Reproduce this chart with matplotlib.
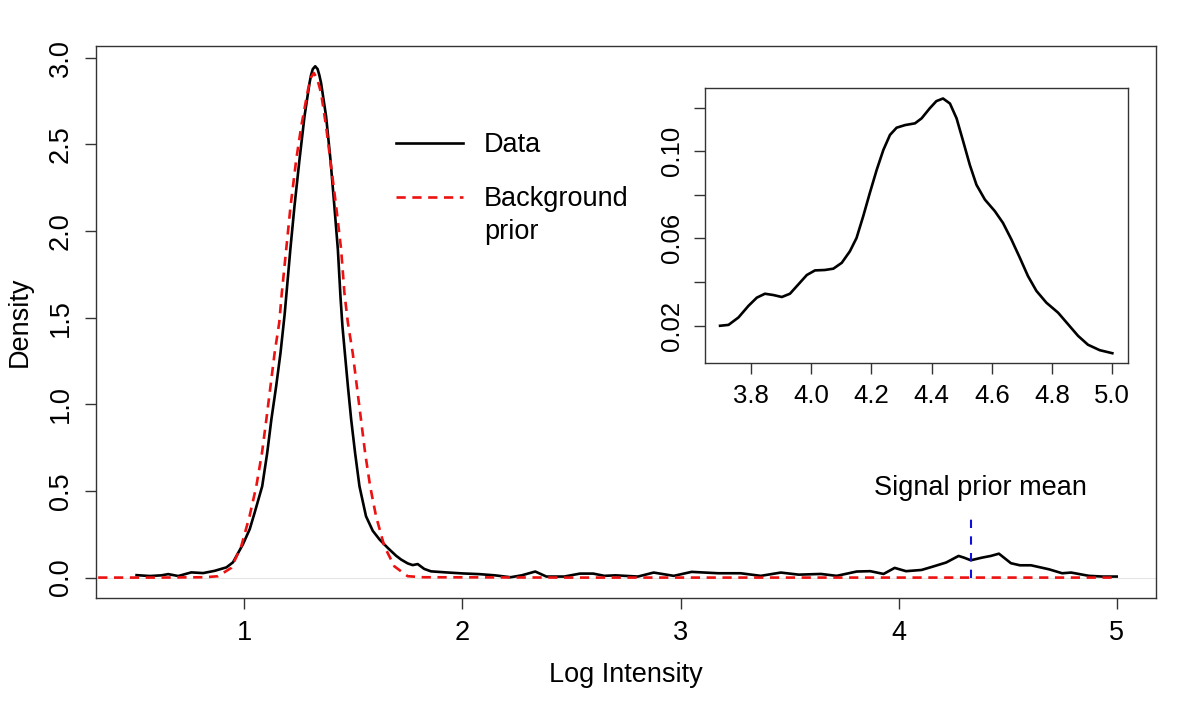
import matplotlib
matplotlib.use("Agg")
import matplotlib.pyplot as plt

plt.rcParams["font.family"] = ["Liberation Sans", "DejaVu Sans"]

# data curve (kernel density of log intensities)
data_x = [0.506, 0.567, 0.620, 0.651, 0.697, 0.757, 0.811, 0.864, 0.918, 0.948,
          0.994, 1.025, 1.047, 1.082, 1.105, 1.124, 1.146, 1.166, 1.185, 1.211,
          1.230, 1.253, 1.276, 1.299, 1.306, 1.314, 1.325, 1.336, 1.344, 1.352,
          1.375, 1.395, 1.413, 1.429, 1.441, 1.450, 1.461, 1.475, 1.490, 1.508,
          1.528, 1.558, 1.589, 1.620, 1.658, 1.696, 1.719, 1.749, 1.772, 1.795,
          1.825, 1.856, 1.924, 2.001, 2.077, 2.149, 2.221, 2.272, 2.334, 2.385,
          2.467, 2.539, 2.600, 2.651, 2.702, 2.805, 2.877, 2.969, 3.051, 3.173,
          3.276, 3.368, 3.460, 3.542, 3.644, 3.716, 3.808, 3.870, 3.931, 3.982,
          4.034, 4.105, 4.156, 4.218, 4.275, 4.300, 4.331, 4.382, 4.423, 4.460,
          4.515, 4.556, 4.607, 4.689, 4.750, 4.791, 4.873, 4.935, 5.000]
data_y = [0.014, 0.009, 0.013, 0.020, 0.009, 0.030, 0.026, 0.039, 0.059, 0.088,
          0.193, 0.280, 0.373, 0.527, 0.719, 0.912, 1.104, 1.297, 1.520, 1.893,
          2.143, 2.412, 2.662, 2.854, 2.900, 2.935, 2.951, 2.935, 2.900, 2.854,
          2.662, 2.412, 2.143, 1.893, 1.620, 1.450, 1.297, 1.104, 0.912, 0.719,
          0.527, 0.354, 0.270, 0.220, 0.171, 0.126, 0.104, 0.082, 0.072, 0.078,
          0.050, 0.036, 0.030, 0.024, 0.020, 0.013, 0.002, 0.013, 0.035, 0.006,
          0.006, 0.023, 0.023, 0.010, 0.013, 0.006, 0.029, 0.010, 0.033, 0.025,
          0.025, 0.010, 0.029, 0.017, 0.021, 0.010, 0.035, 0.037, 0.021, 0.056,
          0.037, 0.044, 0.063, 0.087, 0.125, 0.115, 0.100, 0.115, 0.125, 0.138,
          0.083, 0.071, 0.071, 0.048, 0.025, 0.029, 0.010, 0.006, 0.006]

# background prior (normal density)
prior_x = [0.33, 0.60, 0.82, 0.88, 0.94, 0.986, 1.024, 1.055, 1.081, 1.101,
           1.120, 1.139, 1.160, 1.172, 1.192, 1.212, 1.238, 1.261, 1.292, 1.305,
           1.319, 1.334, 1.352, 1.375, 1.398, 1.421, 1.444, 1.459, 1.475, 1.497,
           1.516, 1.535, 1.554, 1.577, 1.604, 1.642, 1.688, 1.749, 1.82, 2.5,
           3.5, 5.0]
prior_y = [0.0, 0.0, 0.002, 0.008, 0.056, 0.181, 0.354, 0.527, 0.719, 0.912,
           1.104, 1.297, 1.470, 1.643, 1.893, 2.143, 2.412, 2.604, 2.816, 2.885,
           2.912, 2.880, 2.797, 2.604, 2.373, 2.143, 1.893, 1.643, 1.470, 1.297,
           1.104, 0.912, 0.719, 0.527, 0.354, 0.181, 0.065, 0.008, 0.002, 0.0,
           0.0, 0.0]

signal_mean = 4.333
signal_top = 0.36

# inset: density of the upper part of the data
inset_x = [3.698, 3.726, 3.759, 3.792, 3.820, 3.847, 3.875, 3.903, 3.930, 3.958,
           3.986, 4.013, 4.046, 4.074, 4.102, 4.129, 4.151, 4.173, 4.195, 4.218,
           4.240, 4.262, 4.284, 4.312, 4.345, 4.367, 4.394, 4.416, 4.438, 4.461,
           4.483, 4.505, 4.527, 4.549, 4.577, 4.610, 4.637, 4.665, 4.693, 4.720,
           4.748, 4.781, 4.820, 4.853, 4.886, 4.919, 4.958, 5.000]
inset_y = [0.0199, 0.0203, 0.0237, 0.0290, 0.0328, 0.0346, 0.0340, 0.0331, 0.0346, 0.0389,
           0.0432, 0.0453, 0.0455, 0.0461, 0.0488, 0.0541, 0.0602, 0.0701, 0.0808, 0.0915,
           0.1006, 0.1075, 0.1108, 0.1120, 0.1128, 0.1151, 0.1197, 0.1230, 0.1242, 0.1219,
           0.1151, 0.1045, 0.0937, 0.0846, 0.0778, 0.0725, 0.0671, 0.0595, 0.0511, 0.0427,
           0.0359, 0.0305, 0.0259, 0.0206, 0.0153, 0.0112, 0.0087, 0.0073]
inset_yticks = [0.02, 0.04, 0.06, 0.08, 0.10, 0.12]
inset_ylabels = ["0.02", "", "0.06", "", "0.10", ""]

FS = 19.5
RED = "#ee1111"

fig = plt.figure(figsize=(12, 7.1), dpi=100)
ax = fig.add_axes([0.08, 0.1577, 0.8833, 0.7775])

ax.axhline(0, color="#e4e4e4", lw=0.8, zorder=1)
ax.plot(data_x, data_y, color="black", lw=1.9, zorder=3)
ax.plot(prior_x, prior_y, color=RED, lw=1.9, ls=(0, (3.5, 2.5)), zorder=4)
ax.plot([signal_mean, signal_mean], [0, signal_top], color="#1010dd", lw=1.5,
        ls=(0, (4, 4)), zorder=5)
ax.text(4.373, 0.515, "Signal prior mean", ha="center", va="center", fontsize=FS)

ax.set_xlim(0.32, 5.18)
ax.set_ylim(-0.118, 3.068)
ax.set_xticks([1, 2, 3, 4, 5])
ax.set_yticks([0.0, 0.5, 1.0, 1.5, 2.0, 2.5, 3.0])
ax.set_yticklabels(["0.0", "0.5", "1.0", "1.5", "2.0", "2.5", "3.0"],
                   rotation=90, va="center")
ax.tick_params(labelsize=FS, length=8, width=1, pad=8, color="#333333")
ax.set_xlabel("Log Intensity", fontsize=FS, labelpad=11)
ax.set_ylabel("Density", fontsize=FS, labelpad=11)
for s in ax.spines.values():
    s.set_linewidth(1.0)
    s.set_color("#333333")

# legend, drawn like R's legend(bty = "n")
tr = ax.transAxes
ax.plot([0.283, 0.346], [0.8237, 0.8237], color="black", lw=1.9, transform=tr)
ax.plot([0.283, 0.346], [0.7259, 0.7259], color=RED, lw=1.9,
        ls=(0, (3.5, 2.5)), transform=tr)
ax.text(0.366, 0.8085, "Data", fontsize=FS, va="baseline", transform=tr)
ax.text(0.366, 0.7107, "Background", fontsize=FS, va="baseline", transform=tr)
ax.text(0.366, 0.6498, "prior", fontsize=FS, va="baseline", transform=tr)

# inset
ins = fig.add_axes([0.5875, 0.4887, 0.3525, 0.3873])
ins.plot(inset_x, inset_y, color="black", lw=1.9)
ins.set_xlim(3.648, 5.052)
ins.set_ylim(0.0028, 0.129)
ins.set_xticks([3.8, 4.0, 4.2, 4.4, 4.6, 4.8, 5.0])
ins.set_xticklabels(["3.8", "4.0", "4.2", "4.4", "4.6", "4.8", "5.0"])
ins.set_yticks(inset_yticks)
ins.set_yticklabels(inset_ylabels, rotation=90, va="center")
ins.tick_params(labelsize=18.5, length=8, width=1, pad=7, color="#333333")
for s in ins.spines.values():
    s.set_linewidth(1.0)
    s.set_color("#333333")

fig.savefig("out.png", dpi=100)
